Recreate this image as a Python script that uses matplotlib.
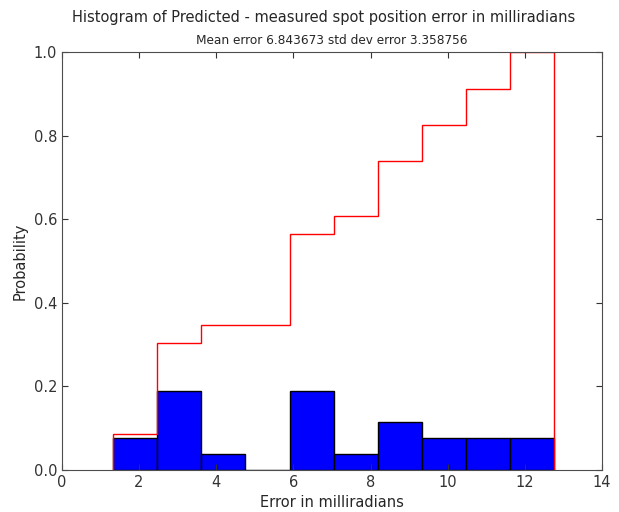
import numpy as np
import matplotlib
matplotlib.use("Agg")
import matplotlib.pyplot as plt

# counts per bin (23 samples), bin edges in milliradians
bin_edges = np.linspace(1.33, 12.76, 11)
counts = [2, 5, 1, 0, 5, 1, 3, 2, 2, 2]
mean_err = 6.843673
std_err = 3.358756

centers = 0.5*(bin_edges[:-1] + bin_edges[1:])

fig = plt.figure(figsize=(6.19, 5.12), dpi=100)
ax = fig.add_axes([0.1, 0.082, 0.8725, 0.816])
ax.hist(centers, bins=bin_edges, weights=counts, density=True,
        color='b', edgecolor='k', linewidth=1)
ax.hist(centers, bins=bin_edges, weights=counts, density=True, cumulative=True,
        histtype='step', color='r', linewidth=1)
ax.set_xlim(0, 14)
ax.set_ylim(0, 1.0)
ax.set_xticks([0, 2, 4, 6, 8, 10, 12, 14])
ax.set_yticks([0.0, 0.2, 0.4, 0.6, 0.8, 1.0])
ax.tick_params(direction='in', top=True, right=True, labelsize=10.5, length=4,
               colors='0.2')
for s in ax.spines.values():
    s.set_color('0.3')
ax.set_xlabel('Error in milliradians', fontsize=10.5, color='0.15')
ax.set_ylabel('Probability', fontsize=10.5, color='0.15')
ax.set_title('Mean error %f std dev error %f' % (mean_err, std_err),
             fontsize=8.7, color='0.15')
fig.suptitle('Histogram of Predicted - measured spot position error in milliradians',
             fontsize=10.5, x=0.523, y=0.98, color='0.15')
fig.savefig('out.png', dpi=100)
